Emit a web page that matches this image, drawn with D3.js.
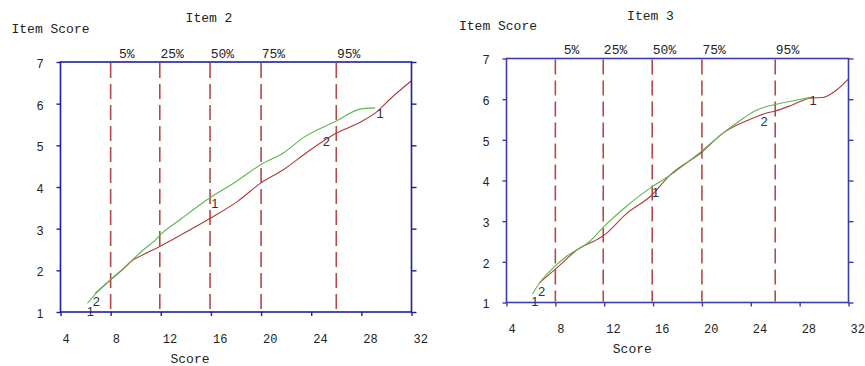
<!DOCTYPE html>
<html><head><meta charset="utf-8">
<script src="https://cdn.jsdelivr.net/npm/d3@7"></script>
<style>
html,body{margin:0;padding:0;background:#fff;}
svg{display:block;}
.mono{font-family:"Liberation Mono","DejaVu Sans Mono",monospace;}
.sans{font-family:"Liberation Sans","DejaVu Sans",Arial,sans-serif;}
</style></head>
<body><svg id="c" width="865" height="366"></svg>
<script>
// ---- data ----
const xTicks = [4, 8, 12, 16, 20, 24, 28, 32];
const yTicks = [1, 2, 3, 4, 5, 6, 7];
const pctLabels = ["5%", "25%", "50%", "75%", "95%"];
const pctScores = [8, 11.92, 15.93, 20, 26];

const item2Title = "Item 2";
const item2G1Scores = [6.15, 7.0, 8.0, 9.0, 9.8, 10.64, 11.58, 11.95, 13.55, 15.95, 17.8, 20.0, 21.8, 23.4, 26.05, 27.9, 29.1];
const item2G1Values = [1.21, 1.5, 1.78, 2.04, 2.27, 2.5, 2.73, 2.85, 3.22, 3.75, 4.09, 4.54, 4.82, 5.19, 5.59, 5.87, 5.9];
const item2G2Scores = [6.78, 8.0, 9.0, 9.8, 10.3, 11.95, 13.6, 15.95, 18.1, 20.0, 21.8, 23.7, 26.05, 27.95, 29.3, 30.25, 32];
const item2G2Values = [1.45, 1.77, 2.03, 2.25, 2.33, 2.58, 2.85, 3.25, 3.65, 4.1, 4.42, 4.84, 5.3, 5.56, 5.82, 6.1, 6.55];
const item2LabelText = ["1", "2", "1", "2", "1"];
const item2LabelScores = [6.38, 6.87, 16.32, 25.2, 29.5];
const item2LabelValues = [1.02, 1.25, 3.61, 5.1, 5.77];

const item3Title = "Item 3";
const item3G1Scores = [6.13, 6.7, 8.0, 8.9, 10.8, 11.92, 13.8, 15.93, 17.3, 20.0, 21.7, 23.4, 24.4, 25.3, 26.0, 27.5, 28.97];
const item3G1Values = [1.21, 1.48, 1.9, 2.13, 2.5, 2.85, 3.36, 3.85, 4.11, 4.73, 5.16, 5.53, 5.72, 5.82, 5.87, 5.96, 6.05];
const item3G2Scores = [6.68, 8.0, 10.0, 11.37, 11.92, 13.8, 15.93, 17.3, 20.0, 21.7, 23.9, 25.3, 26.0, 27.5, 28.97, 29.9, 31.0, 32];
const item3G2Values = [1.48, 1.82, 2.34, 2.54, 2.64, 3.18, 3.65, 4.11, 4.7, 5.16, 5.5, 5.66, 5.71, 5.87, 6.03, 6.04, 6.22, 6.5];
const item3LabelText = ["1", "2", "1", "2", "1"];
const item3LabelScores = [6.33, 6.87, 16.2, 25.1, 29.1];
const item3LabelValues = [1.02, 1.27, 3.7, 5.46, 5.97];

// ---- drawing ----
const svg = d3.select("#c");
const GREEN = "#5cb84a", RED = "#b03a3a", DASH = "#b24a4a";

function drawChart(cfg) {
  const x = d3.scaleLinear().domain([4, 32]).range([cfg.left, cfg.right]);
  const y = d3.scaleLinear().domain([1, 7]).range([cfg.bottom, cfg.top]);
  const g = svg.append("g");

  // dashed percentile lines
  g.selectAll("line.pct").data(pctScores).join("line")
    .attr("x1", d => x(d)).attr("x2", d => x(d))
    .attr("y1", cfg.top + 1).attr("y2", cfg.bottom - 1)
    .attr("stroke", DASH).attr("stroke-width", 1.6)
    .attr("stroke-dasharray", "15,6");
  g.selectAll("text.pct").data(pctLabels).join("text")
    .attr("class", "mono")
    .attr("x", (d, i) => x(pctScores[i]) + 24)
    .attr("y", cfg.top - 9).attr("dy", "0.35em")
    .attr("text-anchor", "end").attr("font-size", 13).attr("fill", "#222")
    .text(d => d);

  // curves
  const line = d3.line().x(d => x(d[0])).y(d => y(d[1])).curve(d3.curveMonotoneX);
  g.append("path").datum(cfg.g2s.map((s, i) => [s, cfg.g2v[i]]))
    .attr("d", line).attr("fill", "none").attr("stroke", RED).attr("stroke-width", 1.1);
  g.append("path").datum(cfg.g1s.map((s, i) => [s, cfg.g1v[i]]))
    .attr("d", line).attr("fill", "none").attr("stroke", GREEN).attr("stroke-width", 1.1);

  // curve labels
  g.selectAll("text.cl").data(cfg.lt).join("text")
    .attr("class", "sans")
    .attr("x", (d, i) => x(cfg.ls[i])).attr("y", (d, i) => y(cfg.lv[i]))
    .attr("dy", "0.35em").attr("text-anchor", "middle")
    .attr("font-size", 13).attr("fill", "#333").text(d => d);

  // frame
  g.append("rect").attr("x", cfg.left).attr("y", cfg.top)
    .attr("width", cfg.right - cfg.left).attr("height", cfg.bottom - cfg.top)
    .attr("fill", "none").attr("stroke", cfg.axis).attr("stroke-width", 1.6);

  // axes
  const ax = g.append("g").attr("transform", `translate(${cfg.left},0)`)
    .call(d3.axisLeft(y).tickValues(yTicks).tickSize(4).tickFormat(d3.format("d")));
  ax.select(".domain").remove();
  ax.selectAll("line").attr("stroke", cfg.axis).attr("stroke-width", 1.4);
  ax.selectAll("text").attr("class", "sans").attr("font-size", 12).attr("fill", "#222")
    .attr("x", -17).attr("dy", "0.45em");

  const ar = g.append("g").attr("transform", `translate(${cfg.right},0)`)
    .call(d3.axisRight(y).tickValues(yTicks).tickSize(5).tickFormat(""));
  ar.select(".domain").remove();
  ar.selectAll("line").attr("stroke", cfg.axis).attr("stroke-width", 1.4);

  const ab = g.append("g").attr("transform", `translate(0,${cfg.bottom})`)
    .call(d3.axisBottom(x).tickValues(xTicks).tickSize(4).tickFormat(d3.format("d")));
  ab.select(".domain").remove();
  ab.selectAll("line").attr("stroke", cfg.axis).attr("stroke-width", 1.4);
  ab.selectAll("text").attr("class", "mono").attr("font-size", 12).attr("fill", "#222")
    .attr("text-anchor", "start").attr("x", 1.5).attr("y", 26.5).attr("dy", "0.35em");

  // titles
  g.append("text").attr("class", "mono").attr("x", cfg.titleX).attr("y", cfg.titleY)
    .attr("dy", "0.35em").attr("text-anchor", "middle").attr("font-size", 13).attr("fill", "#222")
    .text(cfg.title);
  g.append("text").attr("class", "mono").attr("x", cfg.ylabX).attr("y", cfg.ylabY)
    .attr("dy", "0.35em").attr("font-size", 13).attr("fill", "#222").text("Item Score");
  g.append("text").attr("class", "mono").attr("x", cfg.xlabX).attr("y", cfg.xlabY)
    .attr("dy", "0.35em").attr("text-anchor", "middle").attr("font-size", 13).attr("fill", "#222")
    .text("Score");
}

drawChart({
  left: 60.5, right: 411.5, top: 62, bottom: 312, axis: "#1e1ea0",
  title: item2Title, titleX: 209, titleY: 17.7, ylabX: 11.5, ylabY: 28.3, xlabX: 190, xlabY: 358,
  g1s: item2G1Scores, g1v: item2G1Values, g2s: item2G2Scores, g2v: item2G2Values,
  lt: item2LabelText, ls: item2LabelScores, lv: item2LabelValues
});
drawChart({
  left: 506.5, right: 848.5, top: 58.5, bottom: 302.5, axis: "#3c3cac",
  title: item3Title, titleX: 650.5, titleY: 15.7, ylabX: 459, ylabY: 25.7, xlabX: 632.3, xlabY: 348.3,
  g1s: item3G1Scores, g1v: item3G1Values, g2s: item3G2Scores, g2v: item3G2Values,
  lt: item3LabelText, ls: item3LabelScores, lv: item3LabelValues
});
</script></body></html>
